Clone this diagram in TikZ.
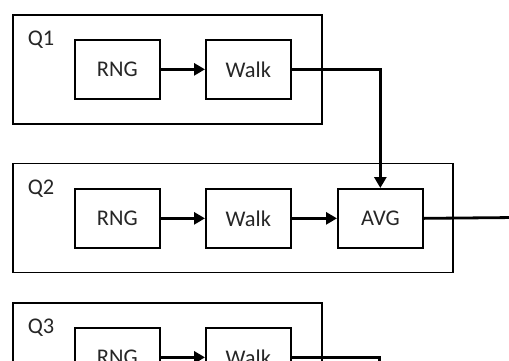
\documentclass[tikz,border=0pt]{standalone}
\usepackage{fontspec}
\setmainfont{Carlito}
\usetikzlibrary{arrows.meta}
\newcommand\lowtext[1]{\lower4bp\hbox{#1}}
\begin{document}
\begin{tikzpicture}[x=1bp,y=-1bp,
  group/.style={draw=black, line width=1.7bp, minimum height=109bp, inner sep=0pt, anchor=north west},
  block/.style={draw=black, line width=1.7bp, minimum width=85bp, minimum height=59bp, inner sep=0pt, anchor=north west, font=\fontsize{22.5}{26}\selectfont, text=black!85},
  qlabel/.style={inner sep=0pt, font=\fontsize{22.5}{26}\selectfont, text=black!85},
  flow/.style={draw=black, line width=2.8bp, -{Triangle[length=11bp,width=12bp]}},
  wire/.style={draw=black, line width=2.8bp}]
\useasboundingbox (0,0) rectangle (509,360);
\clip (0,0) rectangle (509,360);
\fill[white] (0,0) rectangle (509,360);
% groups
\node[group, minimum width=309bp] (q1) at (12,14) {};
\node[group, minimum width=440bp] (q2) at (12,162.5) {};
\node[group, minimum width=309bp] (q3) at (12,302) {};
\node[qlabel] (l1) at (41,40) {Q1};
\node[qlabel] (l2) at (41,189) {Q2};
\node[qlabel] (l3) at (41,328) {Q3};
% blocks
\node[block] (r1) at (74,39) {\lowtext{RNG}};
\node[block] (w1) at (205,39) {\lowtext{Walk}};
\node[block] (r2) at (74,188) {\lowtext{RNG}};
\node[block] (w2) at (205,188) {\lowtext{Walk}};
\node[block] (avg) at (337,188) {\lowtext{AVG}};
\node[block] (r3) at (74,327) {\lowtext{RNG}};
\node[block] (w3) at (205,327) {\lowtext{Walk}};
\coordinate (out) at (515,217.5);
\coordinate (down3) at (379.5,372);
% connectors
\draw[flow] (r1.east) -- (w1.west);
\draw[flow] (w1.east) -| (avg.north);
\draw[flow] (r2.east) -- (w2.west);
\draw[flow] (w2.east) -- (avg.west);
\draw[wire] (avg.east) -- (out);
\draw[flow] (r3.east) -- (w3.west);
\draw[wire] (w3.east) -| (down3);
\end{tikzpicture}
\end{document}
